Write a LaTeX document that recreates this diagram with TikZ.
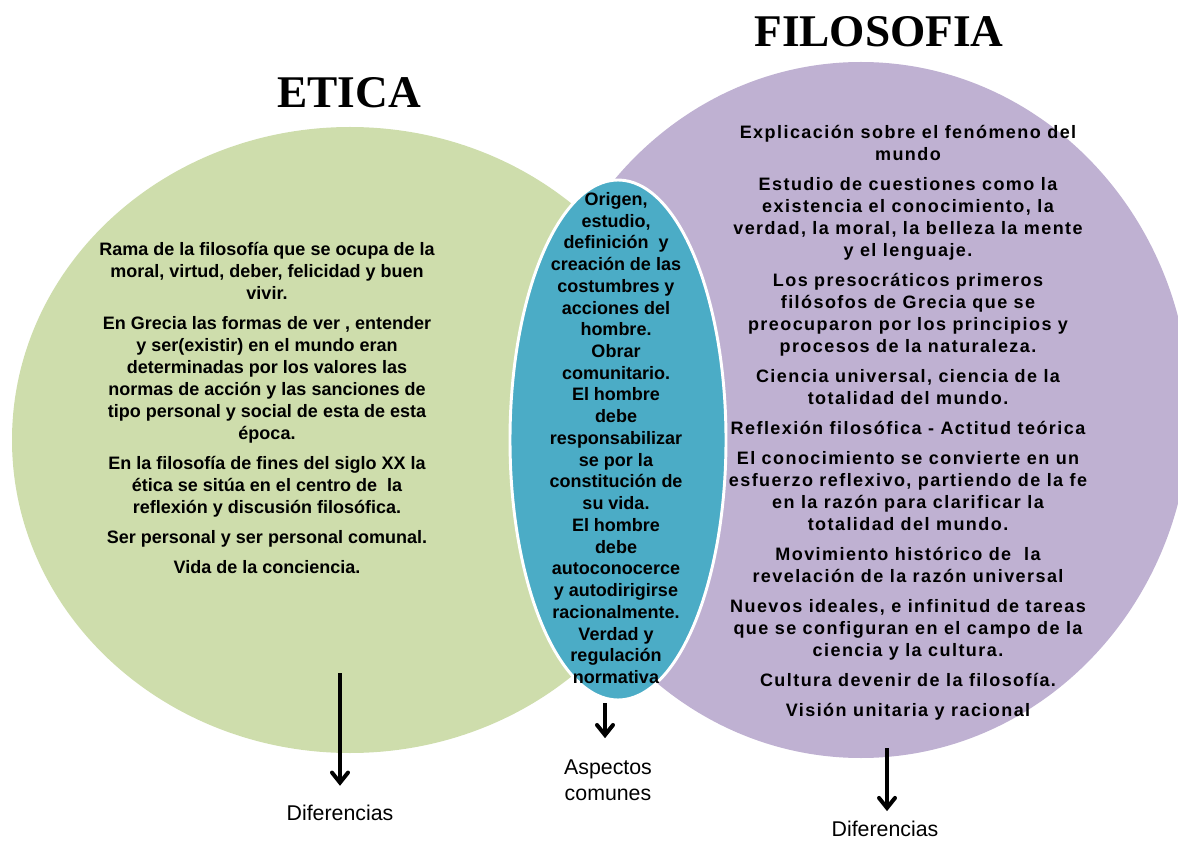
\documentclass[tikz,border=0pt]{standalone}
\usepackage{fontspec}
\setmainfont{Liberation Sans}
\newfontfamily\titulofont{Liberation Serif}
\newfontfamily\espaciada[LetterSpace=8]{Liberation Sans}
\usetikzlibrary{shapes.geometric,arrows.meta,positioning}
\definecolor{verde}{RGB}{206,221,172}
\definecolor{lila}{RGB}{191,177,210}
\definecolor{azul}{RGB}{75,172,198}

\begin{document}
\begin{tikzpicture}[x=0.75pt,y=-0.75pt,
    circulo/.style={ellipse, inner sep=0pt},
    titulo/.style={font={\titulofont\bfseries\fontsize{34}{40}\selectfont}},
    texto/.style={align=center, font={\bfseries\fontsize{13.5}{16.5}\selectfont}},
    etiqueta/.style={align=center, font={\fontsize{16}{19.5}\selectfont}},
    flecha/.style={-{Straight Barb[length=7.5pt,width=12pt,line cap=round]}, line width=3pt}]
    \useasboundingbox (0,0) rectangle (1178,841);
    \clip (0,0) rectangle (1178,841);

    % conjuntos
    \node (eti) at (350,440) [circulo, fill=verde, minimum width=507pt, minimum height=469.5pt] {};
    \node (fil) at (861,410) [circulo, fill=lila, minimum width=493.5pt, minimum height=522pt] {};
    \node (com) at (618,440) [circulo, fill=azul, draw=white, line width=2.2pt, minimum width=162pt, minimum height=390pt] {};

    % titulos
    \node (etica) at (349,93) [titulo] {ETICA};
    \node (filosofia) at (879,32) [titulo] {FILOSOFIA};

    % textos
    \node (teti) at (267,408) [texto] {Rama de la filosofía que se ocupa de la\\
        moral, virtud, deber, felicidad y buen\\ vivir.\\[6pt]
        En Grecia las formas de ver , entender\\ y ser(existir) en el mundo eran\\
        determinadas por los valores las\\ normas de acción y las sanciones de\\
        tipo personal y social de esta de esta\\ época.\\[6pt]
        En la filosofía de fines del siglo XX la\\ ética se sitúa en el centro de\ \ la\\
        reflexión y discusión filosófica.\\[6pt]
        Ser personal y ser personal comunal.\\[6pt]
        Vida de la conciencia.};
    \node (tcom) at (616,438) [texto, font={\bfseries\fontsize{13.5}{16.3}\selectfont}] {Origen,\\ estudio,\\
        definición\ \ y\\ creación de las\\ costumbres y\\ acciones del\\ hombre.\\
        Obrar\\ comunitario.\\ El hombre\\ debe\\ responsabilizar\\ se por la\\
        constitución de\\ su vida.\\ El hombre\\ debe\\ autoconocerce\\
        y autodirigirse\\ racionalmente.\\ Verdad y\\ regulación\\ normativa};
    \node (tfil) at (908,423) [texto, font={\espaciada\bfseries\fontsize{13.5}{16.5}\selectfont}] {Explicación sobre el fenómeno del\\ mundo\\[6pt]
        Estudio de cuestiones como la\\ existencia el conocimiento, la\\
        verdad, la moral, la belleza la mente\\ y el lenguaje.\\[6pt]
        Los presocráticos primeros\\ filósofos de Grecia que se\\
        preocuparon por los principios y\\ procesos de la naturaleza.\\[6pt]
        Ciencia universal, ciencia de la\\ totalidad del mundo.\\[6pt]
        Reflexión filosófica - Actitud teórica\\[6pt]
        El conocimiento se convierte en un\\ esfuerzo reflexivo, partiendo de la fe\\
        en la razón para clarificar la\\ totalidad del mundo.\\[6pt]
        Movimiento histórico de\ \ la\\ revelación de la razón universal\\[6pt]
        Nuevos ideales, e infinitud de tareas\\ que se configuran en el campo de la\\
        ciencia y la cultura.\\[6pt]
        Cultura devenir de la filosofía.\\[6pt]
        Visión unitaria y racional};

    % etiquetas
    \node (dif1) at (340,813) [etiqueta] {Diferencias};
    \node (asp)  at (608,780) [etiqueta] {Aspectos\\ comunes};
    \node (dif2) at (885,829) [etiqueta] {Diferencias};

    \coordinate (sal1) at (340,673);
    \coordinate (sal2) at (605,703);
    \coordinate (sal3) at (887,748);
    \draw[flecha, shorten >=11pt]   (sal1) -- (sal1 |- dif1.north);
    \draw[flecha, shorten >=12.5pt] (sal2) -- (sal2 |- asp.north);
    \draw[flecha, shorten >=4pt]    (sal3) -- (sal3 |- dif2.north);
\end{tikzpicture}
\end{document}
